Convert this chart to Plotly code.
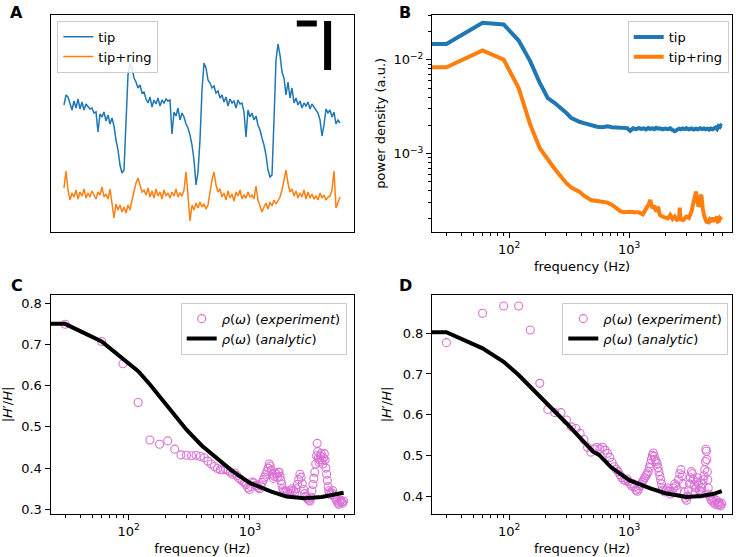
import plotly.graph_objects as go

# ---------------- DATA ----------------
# Panel A: raw traces (arbitrary units), sampled every 0.25 ms
tip_signal = [-v for v in [
    105, 95, 97, 104, 110, 101, 108, 99, 109, 102,
    110, 104, 106, 109, 108, 113, 112, 132, 114, 117,
    112, 121, 115, 124, 118, 126, 140, 150, 165, 173,
    170, 130, 75, 63, 68, 78, 82, 88, 85, 93,
    92, 99, 103, 97, 107, 100, 104, 98, 106, 100,
    103, 99, 101, 100, 134, 112, 116, 108, 120, 113,
    117, 124, 128, 135, 145, 160, 185, 172, 140, 90,
    63, 68, 80, 83, 88, 86, 93, 91, 98, 95,
    102, 97, 106, 99, 103, 101, 108, 100, 104, 103,
    112, 137, 110, 117, 113, 120, 116, 125, 130, 138,
    145, 155, 170, 177, 175, 120, 60, 44, 55, 72,
    78, 95, 82, 98, 88, 103, 98, 105, 101, 108,
    103, 106, 102, 109, 104, 107, 110, 113, 120, 136,
    125, 109, 113, 110, 117, 112, 124, 120, 123]]
ring_signal = [-v for v in [
    188, 171, 190, 200, 193, 197, 190, 199, 192, 196,
    189, 198, 193, 197, 191, 196, 199, 192, 195, 187,
    197, 194, 199, 189, 203, 218, 204, 210, 205, 212,
    207, 213, 205, 210, 200, 190, 183, 178, 185, 192,
    190, 195, 188, 197, 191, 198, 189, 196, 192, 199,
    190, 196, 193, 198, 192, 196, 189, 197, 193, 196,
    190, 172, 195, 221, 205, 210, 203, 208, 202, 207,
    204, 209, 205, 190, 180, 172, 185, 192, 189, 197,
    193, 200, 191, 198, 194, 201, 192, 196, 190, 199,
    195, 198, 192, 197, 195, 199, 186, 200, 205, 212,
    207, 203, 209, 202, 206, 200, 204, 201, 197, 190,
    180, 170, 183, 192, 189, 196, 191, 198, 193, 197,
    190, 199, 192, 198, 194, 199, 196, 200, 193, 198,
    195, 200, 197, 196, 190, 171, 208, 202, 197]]
sample_ms = 0.25
t_ms = [sample_ms * i for i in range(len(tip_signal))]
# scale bars (time bar and amplitude bar)
hbar_t = [29.1, 31.6]
hbar_v = [-23.5, -23.5]
vbar_t = [32.95, 32.95]
vbar_v = [-70, -21]

# Panel B: power spectral density
f_tip = [20, 30, 60, 90, 120, 150, 180, 210, 240, 270, 300, 330, 360, 390, 420, 450,
         480, 510, 540, 600, 660, 720, 780, 840, 900, 960, 1020, 1080, 1140, 1200,
         1260, 1320, 1380, 1440, 1500, 1560, 1620, 1680, 1740, 1800, 1900, 2000,
         2100, 2200, 2300, 2400, 2500, 2600, 2700, 2800, 2900, 3000, 3150, 3300,
         3450, 3600, 3750, 3900, 4050, 4200, 4350, 4500, 4650, 4800, 4950, 5100,
         5250, 5400, 5550, 5700, 5800, 5910]
psd_tip = [0.0148, 0.0148, 0.0249, 0.0239, 0.0161, 0.00966, 0.00568, 0.0039, 0.00346,
           0.00306, 0.00271, 0.00239, 0.00224, 0.00217, 0.00211, 0.00206, 0.0020,
           0.00198, 0.00193, 0.00191, 0.00195, 0.00191, 0.0019, 0.00187, 0.00188,
           0.00187, 0.00175, 0.00186, 0.00182, 0.00187, 0.00183, 0.00186, 0.00181,
           0.00187, 0.00183, 0.00186, 0.00182, 0.00188, 0.00184, 0.00186, 0.00181,
           0.00185, 0.00182, 0.00186, 0.00178, 0.00173, 0.00179, 0.00184, 0.00181,
           0.00185, 0.00182, 0.00186, 0.00181, 0.00185, 0.0018, 0.00184, 0.00181,
           0.00186, 0.00182, 0.00185, 0.00181, 0.00184, 0.0018, 0.00185, 0.00182,
           0.00184, 0.0019, 0.00183, 0.00196, 0.00192, 0.00199, 0.00196]
f_ring = [20, 30, 60, 90, 120, 150, 180, 210, 240, 270, 300, 330, 360, 390, 420, 450,
          480, 540, 600, 660, 720, 780, 840, 900, 960, 1020, 1100, 1200, 1300, 1400,
          1450, 1500, 1560, 1620, 1680, 1740, 1800, 1900, 2000, 2100, 2200, 2300,
          2400, 2500, 2600, 2640, 2680, 2820, 3000, 3150, 3300, 3420, 3500, 3600,
          3700, 3800, 3900, 4000, 4100, 4200, 4400, 4600, 4700, 4800, 4900, 5000,
          5100, 5200, 5300, 5400, 5500, 5600, 5700, 5800, 5910]
psd_ring = [0.00834, 0.00834, 0.0126, 0.01007, 0.0050, 0.00203, 0.00114, 0.000855,
            0.000685, 0.000567, 0.000482, 0.000433, 0.000409, 0.000386, 0.000355,
            0.000333, 0.000319, 0.000311, 0.000306, 0.000299, 0.000282, 0.00026,
            0.000244, 0.000236, 0.000238, 0.000239, 0.000236, 0.000236, 0.000224,
            0.00026, 0.000285, 0.000319, 0.00026, 0.000278, 0.000239, 0.000271,
            0.000221, 0.000212, 0.000208, 0.000203, 0.000221, 0.0002, 0.000212,
            0.000195, 0.0002, 0.000264, 0.000198, 0.000195, 0.000212, 0.000205,
            0.000239, 0.0003, 0.000361, 0.000392, 0.000306, 0.000271, 0.000347,
            0.000361, 0.00026, 0.000221, 0.000187, 0.000184, 0.000198, 0.000195,
            0.000187, 0.000207, 0.000192, 0.000187, 0.000203, 0.000212, 0.000188,
            0.00019, 0.000205, 0.0002, 0.000196]

# Panel C: |H'/H|, experiment vs analytic
f_exp_c = [30, 60, 90, 120, 150, 180, 210, 240, 270, 300, 330, 360, 390, 420, 450, 480,
           510, 540, 570, 600, 630, 660, 690, 720, 750, 780, 810, 840, 870, 900, 930,
           960, 990, 1020, 1050, 1080, 1110, 1140, 1170, 1200, 1230, 1260, 1290, 1320,
           1350, 1380, 1410, 1440, 1470, 1500, 1530, 1560, 1590, 1620, 1650, 1680,
           1710, 1740, 1770, 1800, 1830, 1860, 1890, 1920, 1980, 2040, 2100, 2160,
           2220, 2280, 2340, 2400, 2460, 2520, 2580, 2640, 2700, 2760, 2820, 2880,
           2940, 3000, 3060, 3120, 3180, 3240, 3300, 3360, 3420, 3480, 3540, 3580,
           3620, 3660, 3700, 3740, 3800, 3860, 3920, 3980, 4040, 4100, 4160, 4220,
           4280, 4340, 4400, 4460, 4520, 4600, 4700, 4800, 4900, 5000, 5100, 5200,
           5300, 5400, 5500, 5600, 5700, 5800, 5900]
rho_exp_c = [0.749, 0.707, 0.653, 0.559, 0.468, 0.458, 0.466, 0.446, 0.432, 0.431, 0.43,
             0.431, 0.428, 0.425, 0.417, 0.41, 0.404, 0.399, 0.396, 0.396, 0.397, 0.394,
             0.39, 0.385, 0.388, 0.382, 0.375, 0.372, 0.368, 0.365, 0.36, 0.352, 0.348,
             0.355, 0.366, 0.364, 0.358, 0.356, 0.352, 0.35, 0.357, 0.365, 0.372, 0.378,
             0.385, 0.392, 0.40, 0.41, 0.405, 0.395, 0.385, 0.375, 0.38, 0.388, 0.385,
             0.378, 0.39, 0.39, 0.38, 0.37, 0.36, 0.35, 0.345, 0.34, 0.345, 0.342,
             0.338, 0.345, 0.35, 0.345, 0.34, 0.35, 0.36, 0.372, 0.385, 0.378, 0.362,
             0.348, 0.338, 0.332, 0.328, 0.325, 0.322, 0.32, 0.33, 0.345, 0.36, 0.375,
             0.39, 0.41, 0.43, 0.46, 0.44, 0.425, 0.415, 0.42, 0.43, 0.435, 0.42, 0.41,
             0.425, 0.435, 0.42, 0.4, 0.385, 0.37, 0.355, 0.345, 0.34, 0.335, 0.34,
             0.345, 0.335, 0.33, 0.325, 0.32, 0.315, 0.312, 0.318, 0.322, 0.318, 0.315,
             0.32]
f_fit_c = [20, 30, 60, 90, 120, 150, 200, 250, 300, 400, 500, 575, 700, 800, 1000,
           1100, 1500, 2000, 2800, 3900, 5000, 5910]
rho_fit_c = [0.75, 0.75, 0.707, 0.666, 0.635, 0.603, 0.556, 0.52, 0.493, 0.455, 0.43,
             0.4155, 0.395, 0.383, 0.364, 0.359, 0.343, 0.331, 0.327, 0.330, 0.335, 0.340]

# Panel D
f_exp_d = [30, 60, 90, 120, 150, 180, 210, 240, 270, 300, 330, 360, 390, 420, 450, 480,
           510, 540, 570, 600, 630, 660, 690, 720, 750, 780, 810, 840, 870, 900, 930,
           960, 990, 1020, 1050, 1080, 1110, 1140, 1170, 1200, 1230, 1260, 1290, 1320,
           1350, 1380, 1410, 1440, 1470, 1500, 1530, 1560, 1590, 1620, 1650, 1680,
           1710, 1740, 1770, 1800, 1830, 1860, 1890, 1920, 1980, 2040, 2100, 2160,
           2220, 2280, 2340, 2400, 2460, 2520, 2580, 2640, 2700, 2760, 2820, 2880,
           2940, 3000, 3060, 3120, 3180, 3240, 3300, 3360, 3420, 3480, 3540, 3600,
           3660, 3720, 3780, 3840, 3900, 3960, 4020, 4080, 4140, 4200, 4260, 4320,
           4360, 4400, 4440, 4480, 4520, 4560, 4600, 4700, 4800, 4900, 5000, 5100,
           5200, 5300, 5400, 5500, 5600, 5700, 5800, 5900]
rho_exp_d = [0.777, 0.849, 0.867, 0.867, 0.808, 0.677, 0.613, 0.605, 0.605, 0.587, 0.57,
             0.566, 0.554, 0.539, 0.52, 0.508, 0.516, 0.52, 0.516, 0.52, 0.513, 0.505,
             0.495, 0.483, 0.472, 0.466, 0.46, 0.452, 0.445, 0.44, 0.438, 0.442, 0.436,
             0.43, 0.425, 0.43, 0.422, 0.415, 0.412, 0.418, 0.425, 0.43, 0.435, 0.44,
             0.445, 0.45, 0.455, 0.46, 0.47, 0.48, 0.49, 0.5, 0.506, 0.498, 0.49, 0.485,
             0.48, 0.47, 0.46, 0.45, 0.44, 0.43, 0.42, 0.415, 0.41, 0.415, 0.42, 0.412,
             0.405, 0.41, 0.42, 0.43, 0.425, 0.415, 0.44, 0.455, 0.465, 0.45, 0.43,
             0.41, 0.395, 0.39, 0.4, 0.415, 0.43, 0.445, 0.46, 0.455, 0.44, 0.425, 0.41,
             0.42, 0.435, 0.445, 0.43, 0.415, 0.405, 0.41, 0.42, 0.43, 0.44, 0.45,
             0.465, 0.485, 0.515, 0.51, 0.49, 0.46, 0.44, 0.42, 0.405, 0.4, 0.392,
             0.388, 0.395, 0.385, 0.38, 0.39, 0.383, 0.378, 0.385, 0.38, 0.376, 0.382]
f_fit_d = [20, 30, 60, 90, 120, 150, 200, 300, 500, 562, 700, 1000, 1500, 2000, 3000,
           4000, 5000, 5910]
rho_fit_d = [0.8025, 0.8025, 0.763, 0.730, 0.6975, 0.669, 0.632, 0.579, 0.509, 0.501,
             0.472, 0.439, 0.419, 0.407, 0.398, 0.40, 0.405, 0.412]

# tick values
freq_major = [100, 1000]
freq_major_text = ["10<sup>2</sup>", "10<sup>3</sup>"]
freq_minor = [30, 40, 50, 60, 70, 80, 90, 200, 300, 400, 500, 600, 700, 800, 900,
              2000, 3000, 4000, 5000, 6000]
psd_major = [1e-3, 1e-2]
psd_major_text = ["10<sup>\u22123</sup>", "10<sup>\u22122</sup>"]
psd_minor = [2e-4, 3e-4, 4e-4, 5e-4, 6e-4, 7e-4, 8e-4, 9e-4,
             2e-3, 3e-3, 4e-3, 5e-3, 6e-3, 7e-3, 8e-3, 9e-3, 2e-2, 3e-2]

# ---------------- FIGURE ----------------
BLUE = "#1f77b4"
ORANGE = "#ff7f0e"
ORCHID = "#DA70D6"
FONT = "DejaVu Sans"
W, H = 736, 557

fig = go.Figure()

# A
fig.add_trace(go.Scatter(x=t_ms, y=tip_signal, mode="lines", name="tip",
                         line=dict(color=BLUE, width=1.5), xaxis="x", yaxis="y",
                         legend="legend"))
fig.add_trace(go.Scatter(x=t_ms, y=ring_signal, mode="lines", name="tip+ring",
                         line=dict(color=ORANGE, width=1.5), xaxis="x", yaxis="y",
                         legend="legend"))
fig.add_trace(go.Scatter(x=hbar_t, y=hbar_v, mode="lines", showlegend=False,
                         line=dict(color="black", width=6), xaxis="x", yaxis="y"))
fig.add_trace(go.Scatter(x=vbar_t, y=vbar_v, mode="lines", showlegend=False,
                         line=dict(color="black", width=7), xaxis="x", yaxis="y"))

# B
fig.add_trace(go.Scatter(x=f_tip, y=psd_tip, mode="lines", name="tip",
                         line=dict(color=BLUE, width=4), xaxis="x2", yaxis="y2",
                         legend="legend2"))
fig.add_trace(go.Scatter(x=f_ring, y=psd_ring, mode="lines", name="tip+ring",
                         line=dict(color=ORANGE, width=4), xaxis="x2", yaxis="y2",
                         legend="legend2"))

exp_name = "<i>\u03c1</i>(<i>\u03c9</i>) (<i>experiment</i>)"
fit_name = "<i>\u03c1</i>(<i>\u03c9</i>) (<i>analytic</i>)"

# C
fig.add_trace(go.Scatter(x=f_exp_c, y=rho_exp_c, mode="markers", name=exp_name,
                         marker=dict(symbol="circle-open", size=8, color=ORCHID,
                                     line=dict(width=1.1, color=ORCHID)),
                         xaxis="x3", yaxis="y3", legend="legend3"))
fig.add_trace(go.Scatter(x=f_fit_c, y=rho_fit_c, mode="lines", name=fit_name,
                         line=dict(color="black", width=4), xaxis="x3", yaxis="y3",
                         legend="legend3"))
# D
fig.add_trace(go.Scatter(x=f_exp_d, y=rho_exp_d, mode="markers", name=exp_name,
                         marker=dict(symbol="circle-open", size=8, color=ORCHID,
                                     line=dict(width=1.1, color=ORCHID)),
                         xaxis="x4", yaxis="y4", legend="legend4"))
fig.add_trace(go.Scatter(x=f_fit_d, y=rho_fit_d, mode="lines", name=fit_name,
                         line=dict(color="black", width=4), xaxis="x4", yaxis="y4",
                         legend="legend4"))


def px_x(a, b):
    return [a / W, b / W]


def px_y(top, bottom):
    return [(H - bottom) / H, (H - top) / H]


frame = dict(showline=True, mirror=True, linecolor="black", linewidth=1,
             showgrid=False, zeroline=False)
tickfont = dict(family=FONT, size=13, color="black")
titlefont = dict(family=FONT, size=13, color="black")

LEFT_X = px_x(50.5, 354)
RIGHT_X = px_x(432, 732)
TOP_Y = px_y(14.5, 232)
BOT_Y = px_y(295, 514)
FREQ_RANGE = [1.357, 3.857]

freq_axis = dict(type="log", range=FREQ_RANGE, tickmode="array", tickvals=freq_major,
                 ticktext=freq_major_text, ticks="outside", ticklen=5, tickwidth=1,
                 tickcolor="black", tickfont=tickfont,
                 minor=dict(tickmode="array", tickvals=freq_minor, ticks="outside",
                            ticklen=3, tickwidth=1, tickcolor="black", showgrid=False),
                 title=dict(text="frequency (Hz)", font=titlefont, standoff=6),
                 automargin=False, **frame)

fig.update_layout(
    width=W, height=H, margin=dict(l=0, r=0, t=0, b=0),
    paper_bgcolor="white", plot_bgcolor="white",
    font=dict(family=FONT, size=13, color="black"),
    xaxis=dict(domain=LEFT_X, range=[-1.6875, 36.25], anchor="y", showticklabels=False,
               ticks="", automargin=False, **frame),
    yaxis=dict(domain=TOP_Y, range=[-232, -14.5], anchor="x", showticklabels=False,
               ticks="", automargin=False, **frame),
    xaxis2=dict(domain=RIGHT_X, anchor="y2", **freq_axis),
    yaxis2=dict(domain=TOP_Y, anchor="x2", type="log", range=[-3.838, -1.515],
                tickmode="array", tickvals=psd_major, ticktext=psd_major_text,
                ticks="outside", ticklen=5, tickcolor="black", tickfont=tickfont,
                minor=dict(tickmode="array", tickvals=psd_minor, ticks="outside",
                           ticklen=3, tickcolor="black", showgrid=False),
                title=dict(text="power density (a.u.)", font=titlefont, standoff=4),
                automargin=False, **frame),
    xaxis3=dict(domain=LEFT_X, anchor="y3", **freq_axis),
    yaxis3=dict(domain=BOT_Y, anchor="x3", range=[0.2886, 0.820], tickmode="linear",
                tick0=0.3, dtick=0.1, tickformat=".1f", ticks="outside", ticklen=5,
                tickcolor="black", tickfont=tickfont,
                title=dict(text="|<i>H</i>\u2032/<i>H</i>|", font=titlefont, standoff=8),
                automargin=False, **frame),
    xaxis4=dict(domain=RIGHT_X, anchor="y4", **freq_axis),
    yaxis4=dict(domain=BOT_Y, anchor="x4", range=[0.356, 0.894], tickmode="linear",
                tick0=0.4, dtick=0.1, tickformat=".1f", ticks="outside", ticklen=5,
                tickcolor="black", tickfont=tickfont,
                title=dict(text="|<i>H</i>\u2032/<i>H</i>|", font=titlefont, standoff=8),
                automargin=False, **frame),
)

legend_style = dict(bgcolor="rgba(255,255,255,0.85)", bordercolor="#cccccc", borderwidth=1,
                    font=dict(family=FONT, size=13, color="black"), yanchor="top",
                    tracegroupgap=0)
fig.update_layout(
    legend=dict(x=57.3 / W, y=(H - 20.7) / H, xanchor="left", **legend_style),
    legend2=dict(x=728.7 / W, y=(H - 21) / H, xanchor="right", **legend_style),
    legend3=dict(x=346.7 / W, y=(H - 302.7) / H, xanchor="right", **legend_style),
    legend4=dict(x=728.3 / W, y=(H - 302.7) / H, xanchor="right", **legend_style),
)

# panel letters
for letter, cx, cy in [("A", 16.7, 12.5), ("B", 405, 12.5), ("C", 17, 285), ("D", 405, 285)]:
    fig.add_annotation(text=f"<b>{letter}</b>", x=cx / W, y=(H - cy) / H, xref="paper",
                       yref="paper", showarrow=False, xanchor="center", yanchor="middle",
                       font=dict(family=FONT, size=16, color="black"))

fig.write_html("out.html", config={"displayModeBar": False},
               post_script="document.body.style.margin='0';document.body.style.padding='0';")
